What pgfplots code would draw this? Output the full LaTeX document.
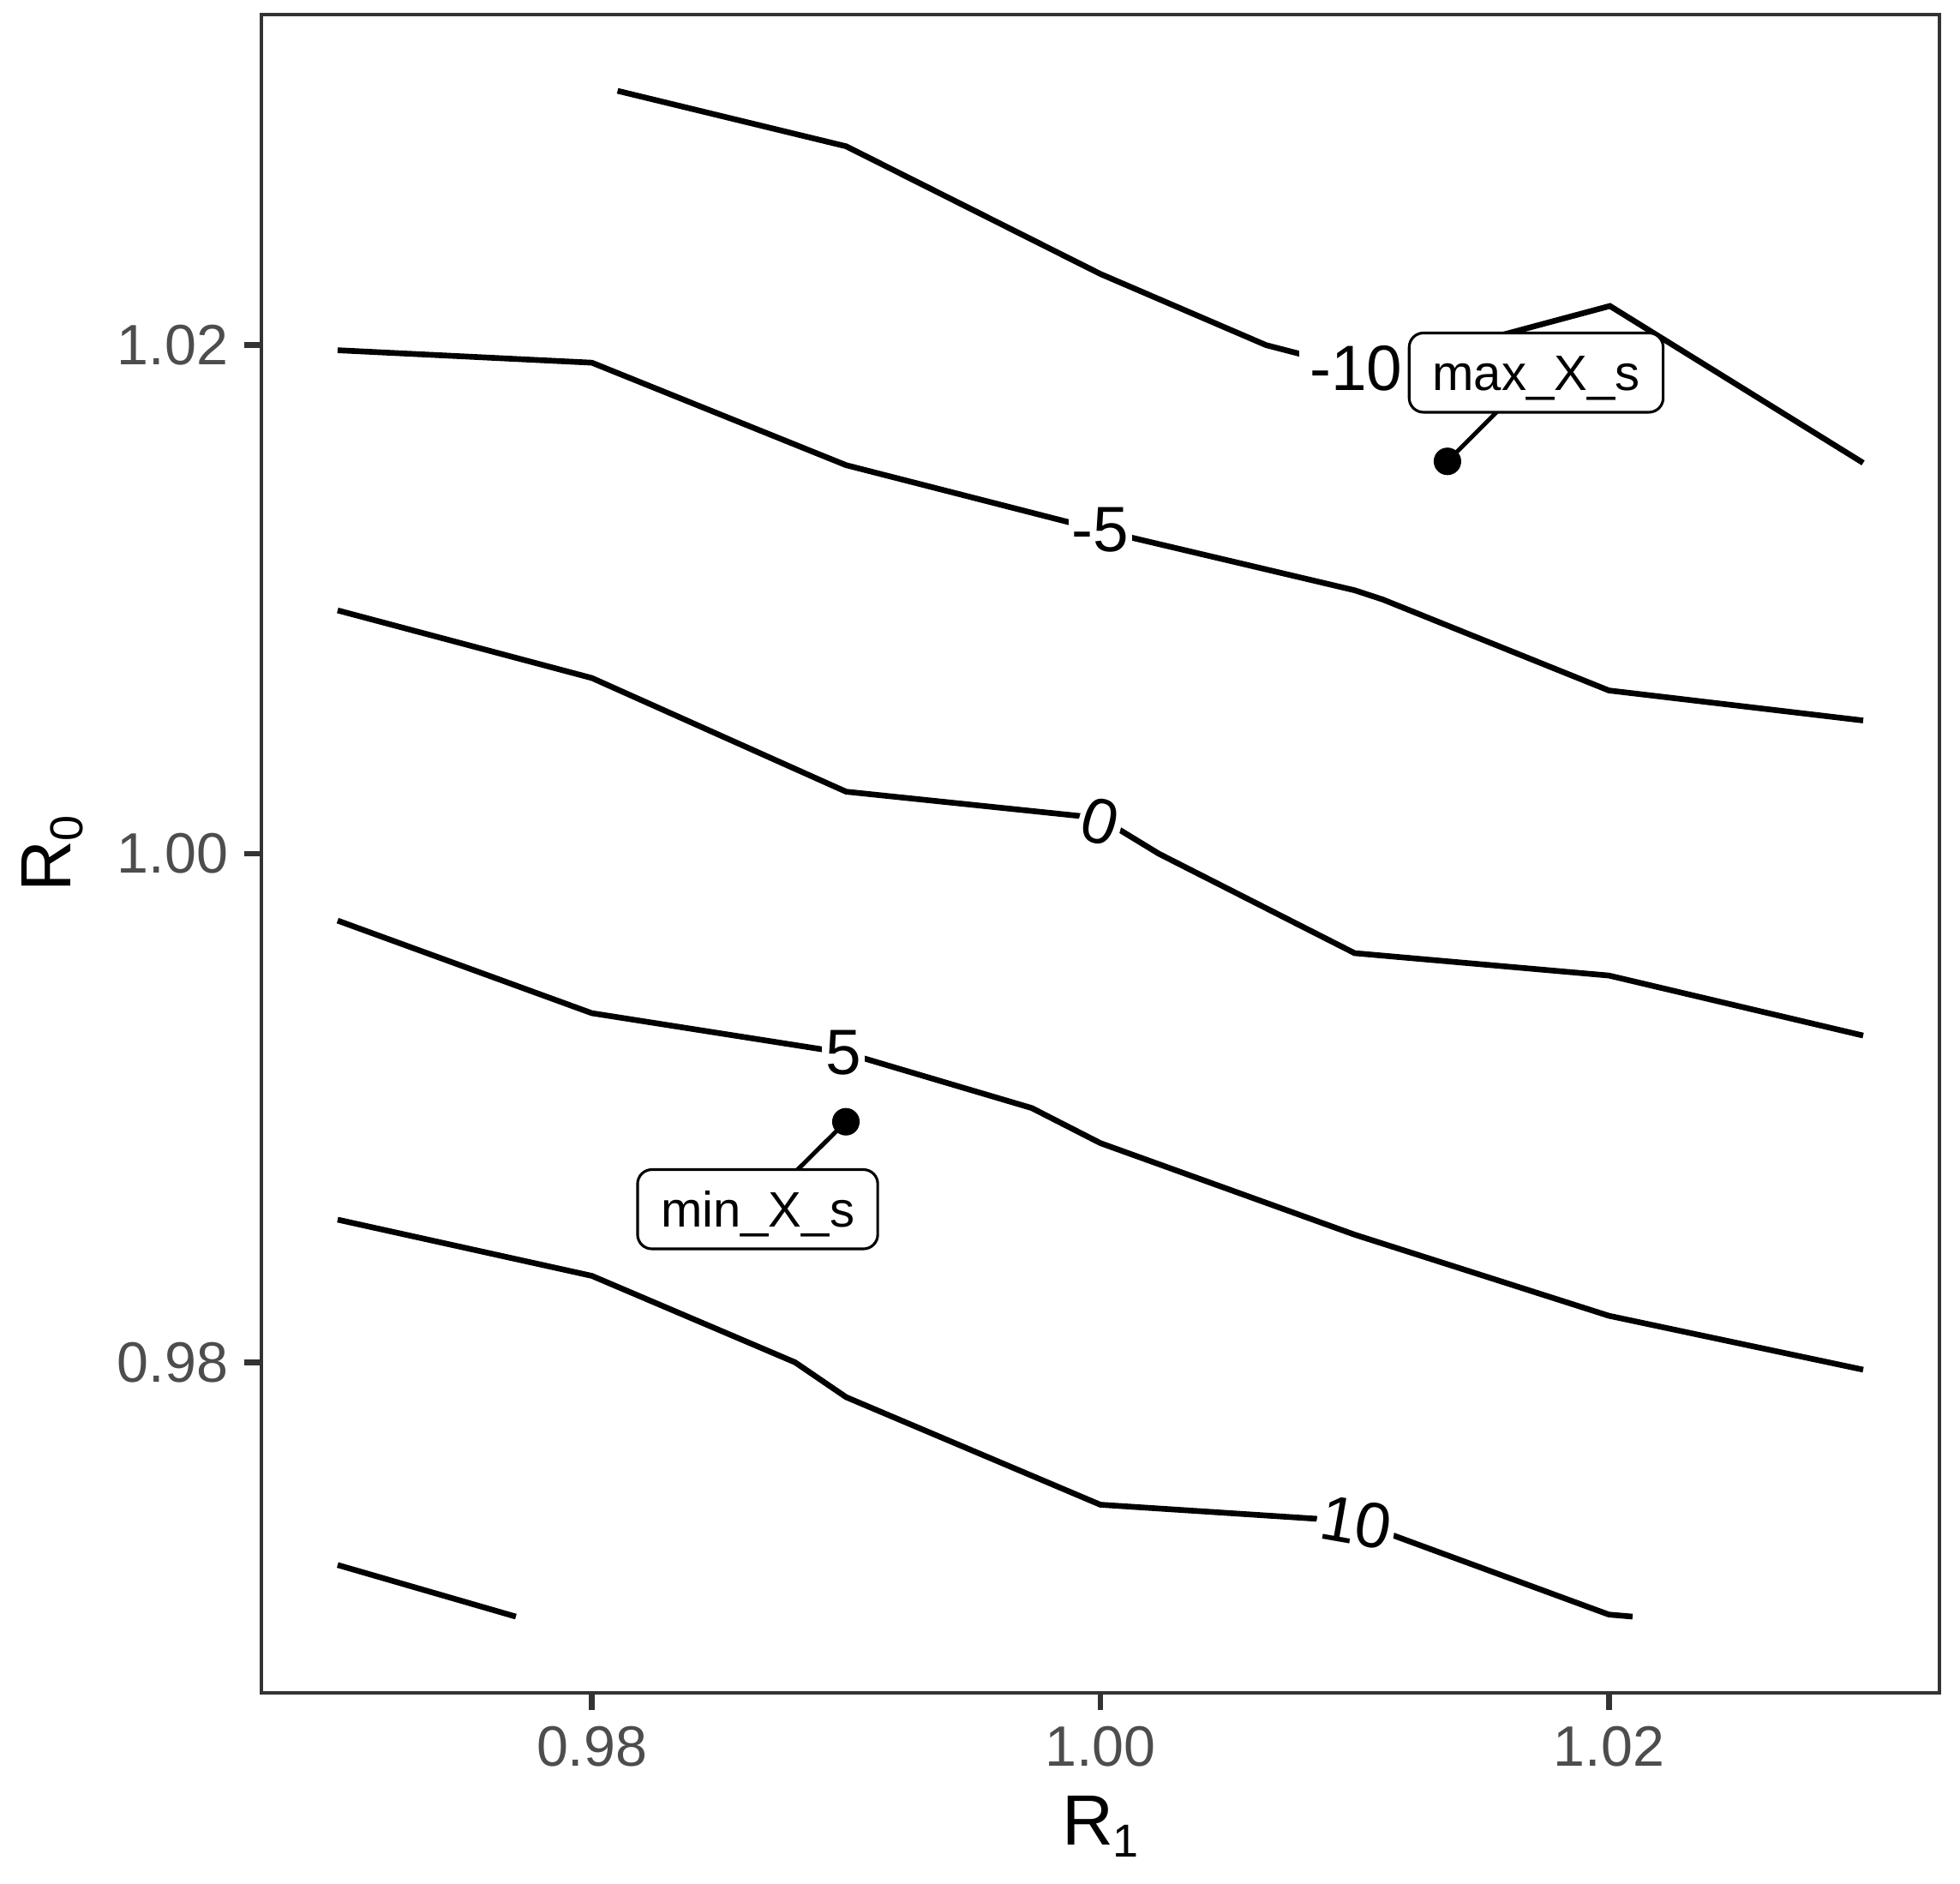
\documentclass[border=0pt]{standalone}
\usepackage{pgfplots}
\pgfplotsset{compat=1.18}
\usepackage{fontspec}
\setmainfont{Liberation Sans}
\definecolor{axisgray}{HTML}{333333}
\definecolor{tickgray}{HTML}{4D4D4D}

\newcommand{\sub}[1]{\raisebox{-3.4bp}{\fontsize{13}{13}\selectfont #1}}
\tikzset{ctr/.style={black, line width=1.6bp, mark=none}}

\begin{document}
\begin{tikzpicture}
\begin{axis}[
  set layers=standard,
  scale only axis,
  width=470bp, height=470bp,
  xmin=0.967, xmax=1.033,
  ymin=0.967, ymax=1.033,
  xtick={0.98,1.00,1.02}, xticklabels={0.98,1.00,1.02},
  ytick={0.98,1.00,1.02}, yticklabels={0.98,1.00,1.02},
  xtick pos=bottom, ytick pos=left,
  tick align=outside,
  major tick length=4.8bp,
  tick style={axisgray, line width=1.6bp},
  axis line style={axisgray, line width=0.9bp},
  /pgf/number format/assume math mode=true,
  ticklabel style={font=\fontsize{16}{19}\selectfont, text=tickgray, inner sep=0pt},
  xticklabel style={anchor=north, yshift=-4.3bp},
  yticklabel style={anchor=east, xshift=-4.3bp},
  xlabel={R\sub{1}},
  ylabel={R\sub{0}},
  label style={font=\fontsize{20}{24}\selectfont, inner sep=0pt},
  xlabel style={at={(axis description cs:0.5,0)}, anchor=center, yshift=-37.4bp},
  ylabel style={at={(axis description cs:-0.1243,0.5)}, anchor=center},
]
% contour -10
\addplot[ctr] coordinates {(0.98101,1.03) (0.99,1.02782) (1.00,1.02280) (1.00652,1.02) (1.01,1.0191) (1.0143,1.02) (1.02004,1.02154) (1.03,1.01537)};
% contour -5
\addplot[ctr] coordinates {(0.97,1.01980) (0.98,1.01931) (0.99,1.01528) (1.00,1.01272) (1.01,1.01036) (1.0111,1.01) (1.02,1.00642) (1.03,1.00524)};
% contour 0
\addplot[ctr] coordinates {(0.97,1.00957) (0.98,1.00691) (0.99,1.00244) (1.00,1.0014) (1.0023,1.00) (1.01,0.99609) (1.02,0.99521) (1.03,0.99285)};
% contour 5
\addplot[ctr] coordinates {(0.97,0.99737) (0.98,0.99373) (0.99,0.99216) (0.9973,0.99) (1.00,0.98862) (1.01,0.98502) (1.02,0.98183) (1.03,0.97971)};
% contour 10
\addplot[ctr] coordinates {(0.97,0.98561) (0.98,0.98340) (0.98799,0.98) (0.99,0.97863) (1.00,0.97440) (1.01,0.97375) (1.02,0.97008) (1.02093,0.97)};
% contour 15
\addplot[ctr] coordinates {(0.97,0.97203) (0.97701,0.97)};

% extremes
\addplot[only marks, mark=*, mark size=3.6bp, black, line width=0.5bp] coordinates {(1.01365,1.01543) (0.98999,0.98946)};

% contour labels
\begin{scope}[every node/.style={fill=white, inner sep=1bp, font=\fontsize{18}{21}\selectfont}]
\node[on layer=axis foreground, inner xsep=3bp] at (axis cs:1.01005,1.01907) {-10};
\node[on layer=axis foreground] at (axis cs:1.0000,1.01272) {-5};
\node[on layer=axis foreground, rotate=-16] at (axis cs:1.0000,1.00126) {0};
\node[on layer=axis foreground] at (axis cs:0.98990,0.99216) {5};
\node[on layer=axis foreground, rotate=-10] at (axis cs:1.01006,0.97371) {10};
\end{scope}

% labelled extremes
\draw[on layer=axis foreground, black, line width=1.2bp] (axis cs:1.01365,1.01543) -- (axis cs:1.01714,1.01892);
\draw[on layer=axis foreground, black, line width=1.2bp] (axis cs:0.98999,0.98946) -- (axis cs:0.98652,0.98602);
\begin{scope}[every node/.style={draw=black, fill=white, line width=0.75bp, rounded corners=4bp,
    inner xsep=6.5bp, inner ysep=6.2bp, text height=9.8bp, text depth=0pt,
    font=\fontsize{14}{17}\selectfont}]
\node[on layer=axis foreground] at (axis cs:1.01714,1.01892) {max\_X\_s};
\node[on layer=axis foreground] at (axis cs:0.98652,0.98602) {min\_X\_s};
\end{scope}
\end{axis}
\pgfresetboundingbox
\path[use as bounding box] (-73.2bp,-53.28bp) rectangle (475.76bp,474.08bp);
\end{tikzpicture}
\end{document}
